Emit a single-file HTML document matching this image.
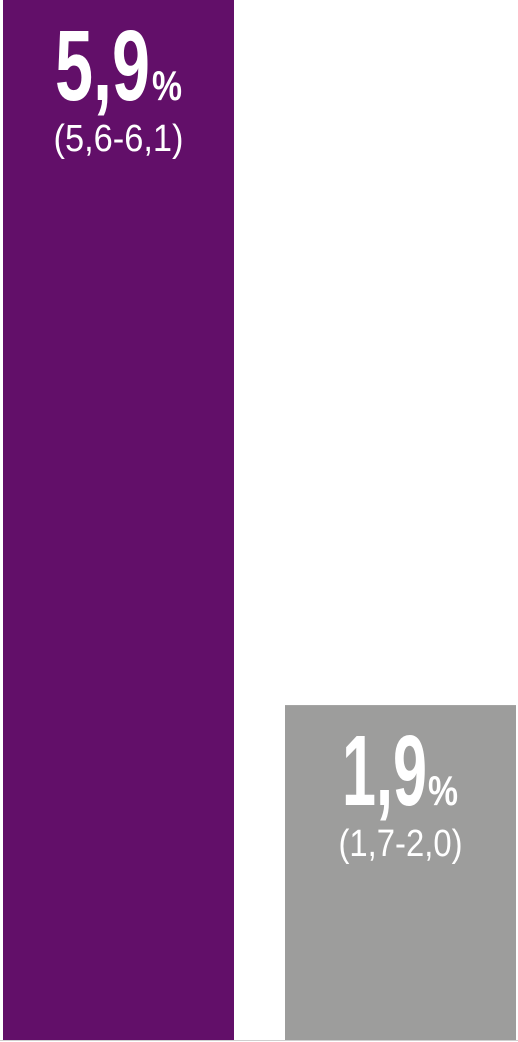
<!DOCTYPE html>
<html><head><meta charset="utf-8"><style>
html,body{margin:0;padding:0;background:#fff;width:518px;height:1042px;overflow:hidden}
svg{display:block}
text{font-family:"Liberation Sans Narrow","Liberation Sans",sans-serif;fill:#fff}
</style></head><body>
<svg id="chart" width="518" height="1042" viewBox="0 0 518 1042" xmlns="http://www.w3.org/2000/svg">
<line x1="0" y1="1040.5" x2="518" y2="1040.5" stroke="#cfcfcf" stroke-width="1"/>
</svg>
<script>
const categories = ["group-a", "group-b"];
const values = [5.9, 1.9];
const valueLabels = ["5,9", "1,9"];
const ciLabels = ["(5,6-6,1)", "(1,7-2,0)"];
const colors = ["#620f69", "#9d9d9c"];

const svg = document.getElementById('chart');
const NS = 'http://www.w3.org/2000/svg';
const baseY = 1040, maxV = 5.9, plotH = 1040;
const y = v => baseY - v / maxV * plotH;
const barX = [3, 285], barW = 231;
const numOff = [-63.5, -58.5], numW = [95, 85], pctOff = [33.5, 27.5];
function mk(tag, attrs){const e=document.createElementNS(NS,tag);for(const k in attrs)e.setAttribute(k,attrs[k]);svg.appendChild(e);return e;}
values.forEach((v,i)=>{
  const top = y(v);
  const r = mk('rect',{x:barX[i],y:top,width:barW,height:baseY-top,fill:colors[i]});
  
  
  const cx = barX[i] + barW/2;
  const t = mk('text',{x:cx+numOff[i],y:top+100,'font-size':100,'font-weight':'bold',textLength:numW[i],lengthAdjust:'spacingAndGlyphs'});
  t.textContent = valueLabels[i];
  
  
  const p = mk('text',{x:cx+pctOff[i],y:top+100,'font-size':42,'font-weight':'bold',textLength:30,lengthAdjust:'spacingAndGlyphs'});
  p.textContent = '%';
  
  
  const c = mk('text',{x:cx,y:top+151,'font-size':38,'text-anchor':'middle',textLength:(i?124:130),lengthAdjust:'spacingAndGlyphs'});
  c.textContent = ciLabels[i];
  
  
});
</script>
</body></html>
